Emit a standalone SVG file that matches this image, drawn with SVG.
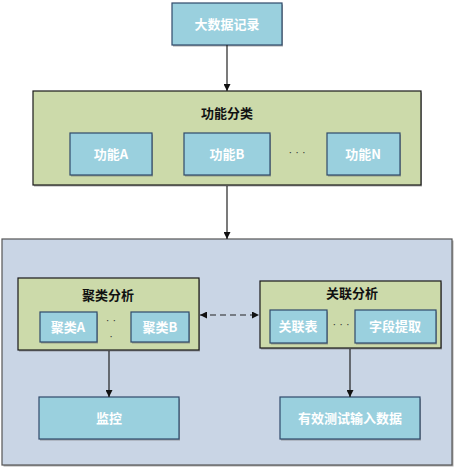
<svg xmlns="http://www.w3.org/2000/svg" width="454" height="470" viewBox="0 0 454 470">
<defs>
<style>
.blue{fill:#9ad0de;stroke:#2f4a6a;stroke-width:1.2}
.green{fill:#ccdaaa;stroke:#1a1a1a;stroke-width:1.2}
.cont{fill:#c9d5e5;stroke:#555;stroke-width:1.2}
.sh{fill:#777;opacity:0.6}
.wt{font-family:"Noto Sans CJK SC","Liberation Sans",sans-serif;font-size:13px;font-weight:bold;fill:#fff;text-anchor:middle}
.bt{font-family:"Noto Sans CJK SC","Liberation Sans",sans-serif;font-size:13px;font-weight:bold;fill:#111;text-anchor:middle}
.dots{font-family:"Liberation Sans",sans-serif;font-size:11px;fill:#333;text-anchor:middle}
.ln{stroke:#222;stroke-width:1.2;fill:none}
</style>
<marker id="ah" viewBox="0 0 10 10" refX="10" refY="5" markerWidth="7" markerHeight="7" orient="auto-start-reverse" markerUnits="userSpaceOnUse">
<path d="M0,0 L10,5 L0,10 z" fill="#111"/>
</marker>
</defs>
<g id="container">
<rect class="sh" x="3.5" y="240.5" width="450" height="226"/>
<rect class="cont" x="2" y="239" width="450" height="226"/>
</g>
<g id="source">
<rect class="sh" x="173" y="4.5" width="110" height="42"/>
<rect class="blue" x="172" y="3" width="110" height="42"/>
<text class="wt" x="227" y="29">大数据记录</text>
</g>
<g id="func-classify">
<rect class="sh" x="34" y="92.5" width="388" height="94"/>
<rect class="green" x="33" y="91" width="388" height="94"/>
<text class="bt" x="227" y="118">功能分类</text>
</g>
<g id="funcA">
<rect class="sh" x="71" y="134.5" width="82" height="42"/>
<rect class="blue" x="70" y="133" width="82" height="42"/>
<text class="wt" x="111" y="159">功能A</text>
</g>
<g id="funcB">
<rect class="sh" x="185" y="134.5" width="86" height="42"/>
<rect class="blue" x="184" y="133" width="86" height="42"/>
<text class="wt" x="227" y="159">功能B</text>
</g>
<text class="dots" x="297" y="156">· · ·</text>
<g id="funcN">
<rect class="sh" x="328" y="134.5" width="73" height="42"/>
<rect class="blue" x="327" y="133" width="73" height="42"/>
<text class="wt" x="363" y="159">功能N</text>
</g>
<g id="cluster">
<rect class="sh" x="19" y="279.5" width="181" height="72"/>
<rect class="green" x="18" y="278" width="181" height="72"/>
<text class="bt" x="108" y="300">聚类分析</text>
</g>
<g id="clusterA">
<rect class="sh" x="41" y="313.5" width="57" height="30"/>
<rect class="blue" x="40" y="312" width="57" height="30"/>
<text class="wt" x="68" y="332">聚类A</text>
</g>
<text class="dots" x="111" y="324">· ·</text>
<text class="dots" x="111" y="340">·</text>
<g id="clusterB">
<rect class="sh" x="132" y="313.5" width="58" height="30"/>
<rect class="blue" x="131" y="312" width="58" height="30"/>
<text class="wt" x="160" y="332">聚类B</text>
</g>
<g id="assoc">
<rect class="sh" x="261" y="282.5" width="181" height="67"/>
<rect class="green" x="260" y="281" width="181" height="67"/>
<text class="bt" x="352" y="298">关联分析</text>
</g>
<g id="assocTable">
<rect class="sh" x="271" y="311.5" width="57" height="33"/>
<rect class="blue" x="270" y="310" width="57" height="33"/>
<text class="wt" x="298" y="331">关联表</text>
</g>
<text class="dots" x="341" y="328">· · ·</text>
<g id="fieldExtract">
<rect class="sh" x="356" y="311.5" width="81" height="33"/>
<rect class="blue" x="355" y="310" width="81" height="33"/>
<text class="wt" x="395" y="331">字段提取</text>
</g>
<g id="monitor">
<rect class="sh" x="40" y="398.5" width="140" height="42"/>
<rect class="blue" x="39" y="397" width="140" height="42"/>
<text class="wt" x="109" y="423">监控</text>
</g>
<g id="testdata">
<rect class="sh" x="281" y="398.5" width="140" height="42"/>
<rect class="blue" x="280" y="397" width="140" height="42"/>
<text class="wt" x="350" y="423">有效测试输入数据</text>
</g>
<g id="connectors">
<line class="ln" x1="227" y1="45" x2="227" y2="91" marker-end="url(#ah)"/>
<line class="ln" x1="227" y1="186" x2="227" y2="239" marker-end="url(#ah)"/>
<line class="ln" x1="200" y1="315" x2="259" y2="315" stroke-dasharray="6,4" marker-start="url(#ah)" marker-end="url(#ah)"/>
<line class="ln" x1="109" y1="351" x2="109" y2="397" marker-end="url(#ah)"/>
<line class="ln" x1="350" y1="349" x2="350" y2="397" marker-end="url(#ah)"/>
</g>
</svg>
